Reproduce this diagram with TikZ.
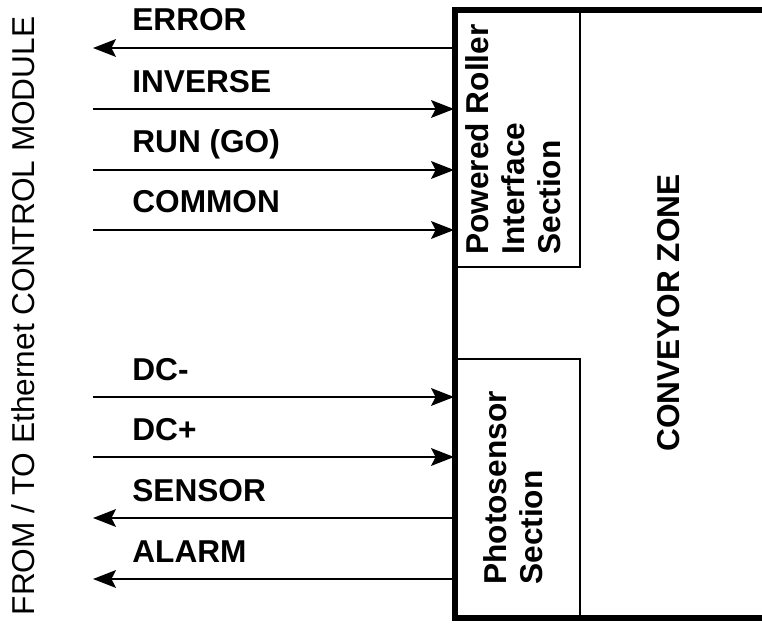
\documentclass[tikz,border=0pt]{standalone}
\usepackage{fontspec}
\setmainfont{Liberation Sans}
\usepackage{tikz}
\usetikzlibrary{arrows.meta, positioning}

\begin{document}
\begin{tikzpicture}[x=0.02cm, y=-0.02cm, >={Stealth[length=13pt, width=10pt, inset=2.5pt]},
    sig/.style={line width=1.5pt},
    lbl/.style={anchor=base west, inner sep=0pt, font=\fontsize{18}{21}\selectfont\bfseries},
    section/.style={draw, line width=1.1pt, minimum width=2.5cm, inner sep=0pt,
        font=\fontsize{18}{20.5}\selectfont\bfseries},
    zoneline/.style={line width=3pt}]
    \useasboundingbox (0,0) rectangle (762,632);

    \draw[zoneline] (762,10) -- (455,10) -- (455,618) -- (762,618);

    \node[section, minimum height=5.1cm] (roller) at (517.5,139.5)
        {\rotatebox{90}{\begin{tabular}{@{}l@{}}Powered Roller\\Interface\\Section\end{tabular}}};
    \node[section, minimum height=5.16cm] (photo) at (517.5,488)
        {\rotatebox{90}{\begin{tabular}{@{}l@{}}Photosensor\\Section\end{tabular}}};
    \node[font=\fontsize{18}{21}\selectfont\bfseries, rotate=90] (zone) at (669,313) {CONVEYOR ZONE};
    \node[font=\fontsize{18}{21}\selectfont, rotate=90] (module) at (23,316) {FROM / TO Ethernet CONTROL MODULE};

    \coordinate (error) at (93,48);
    \coordinate (inverse) at (93,109);
    \coordinate (run) at (93,170);
    \coordinate (common) at (93,230);
    \coordinate (dcm) at (93,397);
    \coordinate (dcp) at (93,457);
    \coordinate (sensor) at (93,518);
    \coordinate (alarm) at (93,579);

    \draw[sig, <-] (error) -- (error -| roller.west);
    \draw[sig, ->] (inverse) -- (inverse -| roller.west);
    \draw[sig, ->] (run) -- (run -| roller.west);
    \draw[sig, ->] (common) -- (common -| roller.west);
    \draw[sig, ->] (dcm) -- (dcm -| photo.west);
    \draw[sig, ->] (dcp) -- (dcp -| photo.west);
    \draw[sig, <-] (sensor) -- (sensor -| photo.west);
    \draw[sig, <-] (alarm) -- (alarm -| photo.west);

    \node[lbl] (errorlbl) at (132,31) {ERROR};
    \node[lbl] (inverselbl) at (132,92) {INVERSE};
    \node[lbl] (runlbl) at (132,153) {RUN (GO)};
    \node[lbl] (commonlbl) at (132,213) {COMMON};
    \node[lbl] (dcmlbl) at (132,380) {DC-};
    \node[lbl] (dcplbl) at (132,440) {DC+};
    \node[lbl] (sensorlbl) at (132,501) {SENSOR};
    \node[lbl] (alarmlbl) at (132,562) {ALARM};
\end{tikzpicture}
\end{document}
